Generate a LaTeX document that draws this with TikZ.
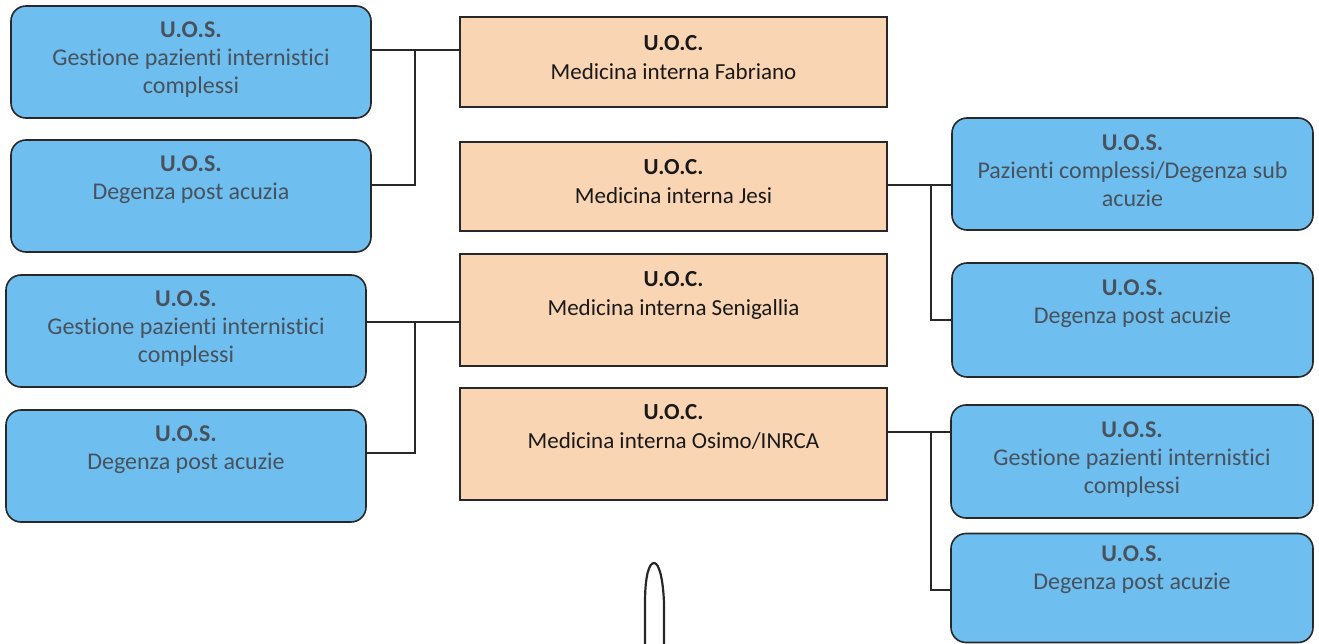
\documentclass[tikz,border=0pt]{standalone}
\usepackage{fontspec}
\setmainfont[Ligatures=NoCommon]{Carlito}
\definecolor{bluefill}{RGB}{110,190,240}
\definecolor{orangefill}{RGB}{250,213,180}
\definecolor{bluetext}{RGB}{72,82,92}
\definecolor{edgecol}{RGB}{40,40,40}
\tikzset{
  bluebox/.style={draw=edgecol, line width=1.6pt, fill=bluefill, rounded corners=15pt, inner sep=0pt},
  orangebox/.style={draw=edgecol, line width=1.6pt, fill=orangefill, inner sep=0pt},
  bluelabel/.style={anchor=north, align=center, inner sep=0pt, text=bluetext, font=\fontsize{24}{28}\selectfont},
  orangelabel/.style={anchor=north, align=center, inner sep=0pt, text=black!90, font=\fontsize{23}{29}\selectfont},
  conn/.style={draw=edgecol, line width=1.5pt},
  handmark/.style={draw=black!85, line width=2.2pt}
}
\begin{document}
\begin{tikzpicture}[x=1pt, y=-1pt]
\useasboundingbox (0,0) rectangle (1319,644);
% left boxes
\node[bluebox, minimum width=360pt, minimum height=112pt] (L1) at (191,62) {};
\node[bluebox, minimum width=360pt, minimum height=112pt] (L2) at (191,196) {};
\node[bluebox, minimum width=360pt, minimum height=112pt] (L3) at (186,331) {};
\node[bluebox, minimum width=360pt, minimum height=112pt] (L4) at (186,466) {};
% centre boxes
\node[orangebox, minimum width=427pt, minimum height=90pt] (Fab) at (673.5,62) {};
\node[orangebox, minimum width=427pt, minimum height=89pt] (Jesi) at (673.5,186.5) {};
\node[orangebox, minimum width=427pt, minimum height=112pt] (Sen) at (673.5,310) {};
\node[orangebox, minimum width=427pt, minimum height=112pt] (Osi) at (673.5,444) {};
% right boxes
\node[bluebox, minimum width=361pt, minimum height=112pt] (R1) at (1132.5,174) {};
\node[bluebox, minimum width=361pt, minimum height=114pt] (R2) at (1132.5,320) {};
\node[bluebox, minimum width=362pt, minimum height=113pt] (R3) at (1132,461.5) {};
\node[bluebox, minimum width=362pt, minimum height=109pt] (R4) at (1132,588) {};
% labels
\node[bluelabel] (L1t) at ([yshift=-16pt]L1.north) {\textbf{U.O.S.}\\Gestione pazienti internistici\\complessi};
\node[bluelabel] (L2t) at ([yshift=-16pt]L2.north) {\textbf{U.O.S.}\\Degenza post acuzia};
\node[bluelabel] (L3t) at ([yshift=-16pt]L3.north) {\textbf{U.O.S.}\\Gestione pazienti internistici\\complessi};
\node[bluelabel] (L4t) at ([yshift=-16pt]L4.north) {\textbf{U.O.S.}\\Degenza post acuzie};
\node[orangelabel] (Fabt) at ([yshift=-19pt]Fab.north) {\textbf{U.O.C.}\\Medicina interna Fabriano};
\node[orangelabel] (Jesit) at ([yshift=-18pt]Jesi.north) {\textbf{U.O.C.}\\Medicina interna Jesi};
\node[orangelabel] (Sent) at ([yshift=-18pt]Sen.north) {\textbf{U.O.C.}\\Medicina interna Senigallia};
\node[orangelabel] (Osit) at ([yshift=-17pt]Osi.north) {\textbf{U.O.C.}\\Medicina interna Osimo/INRCA};
\node[bluelabel] (R1t) at ([yshift=-17pt]R1.north) {\textbf{U.O.S.}\\Pazienti complessi/Degenza sub\\acuzie};
\node[bluelabel] (R2t) at ([yshift=-17pt]R2.north) {\textbf{U.O.S.}\\Degenza post acuzie};
\node[bluelabel] (R3t) at ([yshift=-17pt]R3.north) {\textbf{U.O.S.}\\Gestione pazienti internistici\\complessi};
\node[bluelabel] (R4t) at ([yshift=-13pt]R4.north) {\textbf{U.O.S.}\\Degenza post acuzie};
% connectors
\coordinate (jL1) at (415,50);
\coordinate (aL2) at (415,185);
\draw[conn] (L1.east |- jL1) -- (Fab.west |- jL1);
\draw[conn] (L2.east |- aL2) -- (aL2) -- (jL1);
\coordinate (jL3) at (415,322);
\coordinate (aL4) at (415,453);
\draw[conn] (L3.east |- jL3) -- (Sen.west |- jL3);
\draw[conn] (L4.east |- aL4) -- (aL4) -- (jL3);
\coordinate (jR1) at (931,185);
\coordinate (aR2) at (931,320);
\draw[conn] (Jesi.east |- jR1) -- (R1.west |- jR1);
\draw[conn] (jR1) -- (aR2) -- (R2.west |- aR2);
\coordinate (jR3) at (931,432);
\coordinate (aR4) at (931,590);
\draw[conn] (Osi.east |- jR3) -- (R3.west |- jR3);
\draw[conn] (jR3) -- (aR4) -- (R4.west |- aR4);
% hand-drawn mark
\draw[handmark] (645,644) -- (645,603) .. controls (645,576) and (649,563) .. (654,563) .. controls (659,563) and (663,578) .. (664,603) -- (664,644);
\end{tikzpicture}
\end{document}
